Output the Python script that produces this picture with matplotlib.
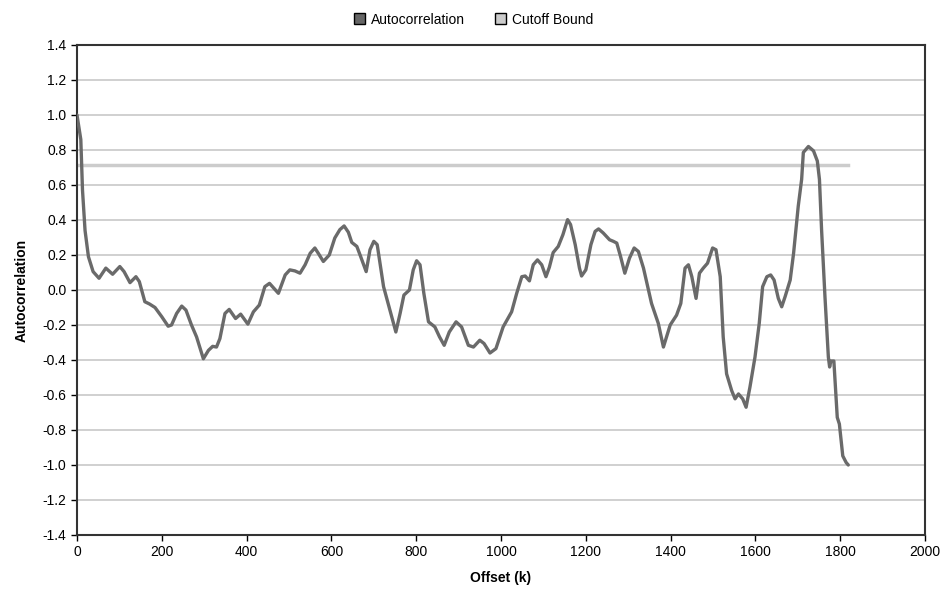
import matplotlib
matplotlib.use('Agg')
import matplotlib.pyplot as plt
from matplotlib.patches import Patch

# values
offset = [0, 9, 13, 19, 27, 38, 52, 68, 84, 101, 111, 125, 139, 147, 160, 171, 184,
          200, 215, 223, 235, 247, 257, 270, 282, 298, 310, 320, 329, 337, 349, 359,
          374, 386, 403, 416, 430, 443, 454, 475, 491, 502, 514, 526, 538, 550, 561,
          569, 581, 595, 608, 620, 630, 640, 648, 660, 669, 682, 691, 700, 708, 723,
          738, 752, 762, 771, 784, 793, 801, 809, 818, 829, 844, 855, 866, 878, 894,
          907, 923, 935, 950, 960, 974, 988, 1005, 1025, 1037, 1049, 1057, 1067, 1076,
          1086, 1096, 1106, 1114, 1123, 1135, 1146, 1157, 1164, 1175, 1185, 1190, 1200,
          1212, 1222, 1230, 1241, 1256, 1265, 1273, 1282, 1292, 1303, 1314, 1324, 1336,
          1355, 1371, 1383, 1399, 1414, 1424, 1434, 1442, 1450, 1460, 1468, 1477, 1487,
          1499, 1507, 1517, 1524, 1532, 1544, 1552, 1560, 1570, 1578, 1587, 1599, 1609,
          1617, 1627, 1636, 1644, 1654, 1662, 1670, 1682, 1690, 1701, 1709, 1713, 1725,
          1737, 1746, 1751, 1756, 1764, 1772, 1775, 1778, 1785, 1790, 1793, 1798, 1806,
          1814, 1819]
autocorr = [1.0, 0.86, 0.57, 0.34, 0.19, 0.105, 0.067, 0.125, 0.09, 0.134, 0.105, 0.042,
            0.076, 0.048, -0.067, -0.08, -0.1, -0.153, -0.207, -0.2, -0.134, -0.092,
            -0.115, -0.2, -0.268, -0.393, -0.345, -0.322, -0.326, -0.278, -0.134, -0.111,
            -0.163, -0.138, -0.195, -0.125, -0.086, 0.019, 0.038, -0.019, 0.086, 0.115,
            0.109, 0.096, 0.144, 0.21, 0.24, 0.21, 0.163, 0.2, 0.297, 0.345, 0.366, 0.33,
            0.272, 0.249, 0.191, 0.105, 0.23, 0.278, 0.259, 0.019, -0.115, -0.24, -0.134,
            -0.029, 0.0, 0.115, 0.167, 0.144, -0.019, -0.182, -0.211, -0.268, -0.316,
            -0.24, -0.182, -0.211, -0.316, -0.326, -0.287, -0.306, -0.36, -0.335, -0.211,
            -0.125, -0.019, 0.076, 0.08, 0.052, 0.144, 0.172, 0.144, 0.076, 0.13, 0.214,
            0.249, 0.316, 0.402, 0.374, 0.259, 0.125, 0.08, 0.115, 0.259, 0.335, 0.349,
            0.326, 0.287, 0.278, 0.268, 0.191, 0.096, 0.182, 0.24, 0.22, 0.125, -0.077,
            -0.191, -0.326, -0.2, -0.144, -0.077, 0.125, 0.144, 0.076, -0.048, 0.096,
            0.125, 0.153, 0.24, 0.23, 0.076, -0.268, -0.479, -0.575, -0.622, -0.594,
            -0.622, -0.67, -0.556, -0.383, -0.191, 0.019, 0.076, 0.086, 0.057, -0.048,
            -0.096, -0.038, 0.057, 0.21, 0.479, 0.632, 0.786, 0.82, 0.795, 0.737, 0.632,
            0.345, -0.038, -0.383, -0.44, -0.406, -0.406, -0.613, -0.728, -0.766, -0.948,
            -0.986, -1.0]
cutoff_x = [0, 1819]
cutoff_y = [0.713, 0.713]

x_ticks = [0, 200, 400, 600, 800, 1000, 1200, 1400, 1600, 1800, 2000]
y_ticks = [-1.4, -1.2, -1.0, -0.8, -0.6, -0.4, -0.2, 0.0, 0.2, 0.4, 0.6, 0.8, 1.0, 1.2, 1.4]

plt.rcParams['font.family'] = ['Liberation Sans', 'DejaVu Sans']

fig = plt.figure(figsize=(9.47, 5.92), dpi=100)
ax = fig.add_axes([0.0813, 0.0963, 0.8955, 0.8277])

# horizontal grid lines
for y in y_ticks:
    ax.axhline(y, color='#c8c8c8', linewidth=1.2, zorder=1)

ax.plot(cutoff_x, cutoff_y, color='#cccccc', linewidth=2.5, zorder=2)
ax.plot(offset, autocorr, color='#6a6a6a', linewidth=2.4, zorder=3,
        solid_joinstyle='round', solid_capstyle='round')

ax.set_xlim(0, 2000)
ax.set_ylim(-1.4, 1.4)
ax.set_xticks(x_ticks)
ax.set_yticks(y_ticks)
ax.set_yticklabels(['%.1f' % v for v in y_ticks])
ax.tick_params(axis='both', direction='out', length=4, width=1, labelsize=10, color='black')
for s in ax.spines.values():
    s.set_color('#333333')
    s.set_linewidth(1.5)

ax.set_xlabel('Offset (k)', fontsize=10, fontweight='bold', labelpad=8)
ax.set_ylabel('Autocorrelation', fontsize=10, fontweight='bold', labelpad=10)

handles = [Patch(facecolor='#666666', edgecolor='black', label='Autocorrelation'),
           Patch(facecolor='#cccccc', edgecolor='black', label='Cutoff Bound')]
fig.legend(handles=handles, loc='upper center', bbox_to_anchor=(0.5, 1.0), ncol=2,
           frameon=False, fontsize=10, handlelength=0.8, handleheight=0.8,
           handletextpad=0.4, columnspacing=2.2)

fig.savefig('out.png', dpi=100)
